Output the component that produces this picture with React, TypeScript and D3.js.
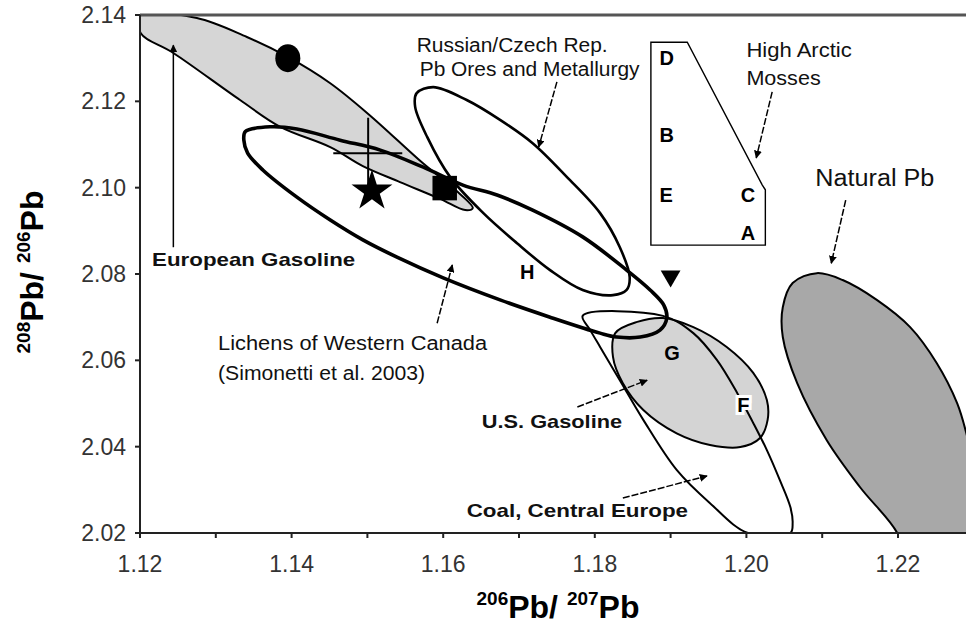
import React from 'react';
import * as d3 from 'd3';

type Pt = [number, number];

// axis ticks
const xTicks = [1.12, 1.13, 1.14, 1.15, 1.16, 1.17, 1.18, 1.19, 1.2, 1.21, 1.22];
const xTickLabels = [1.12, 1.14, 1.16, 1.18, 1.2, 1.22];
const yTicks = [2.02, 2.04, 2.06, 2.08, 2.1, 2.12, 2.14];

// field outlines (206Pb/207Pb, 208Pb/206Pb)
const europeanGasoline: Pt[] = [
  [1.1201, 2.14], [1.1275, 2.1393], [1.1341, 2.1349], [1.1395, 2.1303], [1.1451, 2.1242],
  [1.1503, 2.1168], [1.1573, 2.1057], [1.1616, 2.0995], [1.1639, 2.0953], [1.1629, 2.0948],
  [1.1596, 2.0974], [1.1543, 2.1013], [1.1494, 2.105], [1.1451, 2.1094], [1.1385, 2.1141],
  [1.1332, 2.1203], [1.1244, 2.1312], [1.1201, 2.1358],
];

const lichensCanada: Pt[] = [
  [1.1339, 2.113], [1.1372, 2.1141], [1.1407, 2.1136], [1.1464, 2.111], [1.1517, 2.1087],
  [1.1573, 2.1048], [1.1626, 2.1006], [1.1671, 2.0983], [1.1718, 2.0948], [1.1784, 2.0886],
  [1.1842, 2.0809], [1.1873, 2.0763], [1.1891, 2.0728], [1.1895, 2.0698], [1.1886, 2.067],
  [1.186, 2.0654], [1.1829, 2.0654], [1.1807, 2.0663], [1.1741, 2.07], [1.1675, 2.074],
  [1.16, 2.0791], [1.1539, 2.0839], [1.1494, 2.0879], [1.1451, 2.0925], [1.1407, 2.0978],
  [1.1362, 2.1041], [1.1342, 2.108], [1.1337, 2.111],
];

const russianOres: Pt[] = [
  [1.1565, 2.1219], [1.1587, 2.1233], [1.1631, 2.1203], [1.1675, 2.1157], [1.1718, 2.1103],
  [1.1763, 2.1025], [1.1807, 2.0941], [1.1833, 2.0862], [1.1846, 2.0793], [1.1842, 2.0763],
  [1.1824, 2.0751], [1.1784, 2.0763], [1.1741, 2.0809], [1.1697, 2.0872], [1.1653, 2.0941],
  [1.1609, 2.1025], [1.1579, 2.1117], [1.1563, 2.1187],
];

const arcticMosses: Pt[] = [
  [1.1874, 2.1337], [1.1922, 2.1337], [1.2021, 2.1006], [1.2025, 2.0995], [1.2025, 2.0867], [1.1874, 2.0867],
];

const usGasoline: Pt[] = [
  [1.1827, 2.0663], [1.1856, 2.0689], [1.189, 2.0698], [1.193, 2.0677], [1.1974, 2.0631],
  [1.2009, 2.0571], [1.2027, 2.0508], [1.2028, 2.0462], [1.2018, 2.042], [1.1992, 2.0399],
  [1.1952, 2.0404], [1.1908, 2.0431], [1.1864, 2.0485], [1.1837, 2.0547], [1.1824, 2.0608],
];

const coalEurope: Pt[] = [
  [1.1784, 2.0703], [1.189, 2.0703], [1.193, 2.0663], [1.1961, 2.0601], [1.1988, 2.0524],
  [1.2009, 2.0455], [1.2027, 2.0392], [1.2044, 2.0323], [1.2058, 2.026], [1.2061, 2.0223],
  [1.2058, 2.02], [1.2002, 2.02], [1.1952, 2.0269], [1.1908, 2.0346], [1.1864, 2.0462],
  [1.1833, 2.0554], [1.1807, 2.0631], [1.1794, 2.067],
];

const naturalPb: Pt[] = [
  [1.2093, 2.0802], [1.2127, 2.0786], [1.2172, 2.074], [1.2216, 2.0677], [1.2251, 2.0594],
  [1.2278, 2.0501], [1.229, 2.0432], [1.2303, 2.0323], [1.2306, 2.0207], [1.2288, 2.0114],
  [1.2249, 2.0079], [1.2209, 2.0137], [1.2199, 2.02], [1.215, 2.0306], [1.2106, 2.0415],
  [1.2067, 2.0547], [1.2048, 2.0654], [1.2048, 2.0723], [1.2061, 2.0779],
];

// single samples
const markers = [
  { shape: 'circle', x: 1.1395, y: 2.13 },
  { shape: 'star', x: 1.1506, y: 2.0999 },
  { shape: 'square', x: 1.1602, y: 2.0999 },
  { shape: 'triangle', x: 1.19, y: 2.0795 },
];
const errorCross = { x: 1.1501, y: 2.108, xMin: 1.1455, xMax: 1.1546, yMin: 2.0999, yMax: 2.1162 };

// site letters
const letters = [
  { t: 'D', x: 1.1895, y: 2.13 },
  { t: 'B', x: 1.1895, y: 2.1122 },
  { t: 'E', x: 1.1894, y: 2.0983 },
  { t: 'C', x: 1.2002, y: 2.0983 },
  { t: 'A', x: 1.2002, y: 2.0895 },
  { t: 'H', x: 1.1711, y: 2.0805 },
  { t: 'G', x: 1.1902, y: 2.0617 },
  { t: 'F', x: 1.1996, y: 2.0496 },
];

// annotation text: left edge / baseline in data units, span in x units
const notes = [
  { t: 'Russian/Czech Rep.', x: 1.1565, y: 2.1314, w: 0.0252, bold: false },
  { t: 'Pb Ores and Metallurgy', x: 1.1569, y: 2.1259, w: 0.029, bold: false },
  { t: 'High Arctic', x: 1.2, y: 2.1303, w: 0.0139, bold: false },
  { t: 'Mosses', x: 1.2, y: 2.1238, w: 0.0098, bold: false },
  { t: 'Natural Pb', x: 1.2091, y: 2.1004, w: 0.0157, bold: false },
  { t: 'Lichens of Western Canada', x: 1.1303, y: 2.0624, w: 0.0355, bold: false },
  { t: '(Simonetti et al. 2003)', x: 1.1303, y: 2.0554, w: 0.0273, bold: false },
  { t: 'European Gasoline', x: 1.1216, y: 2.0818, w: 0.0268, bold: true },
  { t: 'U.S. Gasoline', x: 1.1651, y: 2.0443, w: 0.0185, bold: true },
  { t: 'Coal, Central Europe', x: 1.1631, y: 2.0237, w: 0.0292, bold: true },
];

const arrows = [
  { x1: 1.1244, y1: 2.0862, x2: 1.1244, y2: 2.133, dash: false },
  { x1: 1.1592, y1: 2.0686, x2: 1.1612, y2: 2.0821, dash: true },
  { x1: 1.175, y1: 2.1245, x2: 1.1726, y2: 2.1094, dash: true },
  { x1: 1.2034, y1: 2.1222, x2: 1.2013, y2: 2.1069, dash: true },
  { x1: 1.2131, y1: 2.0971, x2: 1.2112, y2: 2.0825, dash: true },
  { x1: 1.1777, y1: 2.0492, x2: 1.1869, y2: 2.0554, dash: true },
  { x1: 1.1837, y1: 2.0281, x2: 1.1948, y2: 2.0332, dash: true },
];

const LEFT = 140;
const RIGHT = 966;
const TOP = 15;
const BOTTOM = 533;

const x = d3.scaleLinear().domain([1.12, 1.22]).range([LEFT, 898]);
const y = d3.scaleLinear().domain([2.02, 2.14]).range([BOTTOM, TOP]);

const smooth = d3.line<Pt>().x(d => x(d[0])).y(d => y(d[1])).curve(d3.curveCatmullRomClosed.alpha(0.5));
const straight = d3.line<Pt>().x(d => x(d[0])).y(d => y(d[1])).curve(d3.curveLinearClosed);
const fmt = d3.format('.2f');

const FONT = "'Liberation Sans', Arial, Helvetica, sans-serif";

function Marker({ m }: { m: typeof markers[number] }) {
  const cx = x(m.x), cy = y(m.y);
  if (m.shape === 'circle') return <ellipse cx={cx} cy={cy} rx={12.5} ry={14} fill="#000" />;
  if (m.shape === 'star')
    return <path d={d3.symbol(d3.symbolStar, 520)()!} transform={`translate(${cx},${cy + 3})`} fill="#000" />;
  if (m.shape === 'square')
    return <path d={d3.symbol(d3.symbolSquare, 600)()!} transform={`translate(${cx},${cy})`} fill="#000" />;
  return <path d={d3.symbol(d3.symbolTriangle, 170)()!} transform={`translate(${cx},${cy}) rotate(180)`} fill="#000" />;
}

export default function App() {
  return (
    <svg width={966} height={625} style={{ position: 'absolute', left: 0, top: 0, background: '#fff' }} fontFamily={FONT}>
      <defs>
        <clipPath id="plotArea">
          <rect x={LEFT} y={TOP} width={RIGHT - LEFT} height={BOTTOM - TOP} />
        </clipPath>
        <marker id="head" viewBox="0 0 10 10" refX={9} refY={5} markerWidth={8} markerHeight={8}
          markerUnits="userSpaceOnUse" orient="auto">
          <path d="M0,0 L10,5 L0,10 z" fill="#000" />
        </marker>
      </defs>

      <g clipPath="url(#plotArea)">
        <path d={smooth(naturalPb)!} fill="#a8a8a8" stroke="#000" strokeWidth={2} />
        <path d={smooth(usGasoline)!} fill="#d4d4d4" stroke="#000" strokeWidth={2} />
        <path d={smooth(europeanGasoline)!} fill="#d6d6d6" stroke="#000" strokeWidth={2} />
        <path d={smooth(coalEurope)!} fill="none" stroke="#000" strokeWidth={2} />
        <path d={smooth(russianOres)!} fill="none" stroke="#000" strokeWidth={2.6} />
        <path d={smooth(lichensCanada)!} fill="none" stroke="#000" strokeWidth={3.6} />
        <path d={straight(arcticMosses)!} fill="none" stroke="#000" strokeWidth={1.4} />
      </g>

      {/* error cross */}
      <g stroke="#000" strokeWidth={2}>
        <line x1={x(errorCross.x)} x2={x(errorCross.x)} y1={y(errorCross.yMax)} y2={y(errorCross.yMin)} />
        <line x1={x(errorCross.xMin)} x2={x(errorCross.xMax)} y1={y(errorCross.y)} y2={y(errorCross.y)} />
      </g>

      {markers.map((m, i) => <Marker key={i} m={m} />)}

      {arrows.map((a, i) => (
        <line key={i} x1={x(a.x1)} y1={y(a.y1)} x2={x(a.x2)} y2={y(a.y2)} stroke="#000" strokeWidth={1.5}
          strokeDasharray={a.dash ? '7,2' : undefined} markerEnd="url(#head)" />
      ))}

      {letters.map(l => (
        <text key={l.t} x={x(l.x)} y={y(l.y)} textAnchor="middle" dominantBaseline="central" fontWeight="bold"
          fontSize={20} fill="#000"
          stroke={l.t === 'F' ? '#fff' : 'none'} strokeWidth={l.t === 'F' ? 6 : 0} paintOrder="stroke">
          {l.t}
        </text>
      ))}

      {notes.map(n => (
        <text key={n.t} x={x(n.x)} y={y(n.y)} fontSize={n.t === 'Natural Pb' ? 23 : n.bold ? 19 : 20}
          fontWeight={n.bold ? 'bold' : 'normal'} fill="#111"
          textLength={x(n.x + n.w) - x(n.x)} lengthAdjust="spacingAndGlyphs">
          {n.t}
        </text>
      ))}

      {/* axes */}
      <line x1={LEFT} x2={RIGHT} y1={TOP} y2={TOP} stroke="#555" strokeWidth={3} />
      <line x1={LEFT} x2={LEFT} y1={TOP} y2={BOTTOM} stroke="#222" strokeWidth={2} />
      <line x1={LEFT} x2={RIGHT} y1={BOTTOM} y2={BOTTOM} stroke="#222" strokeWidth={2} />

      {xTicks.map(t => (
        <line key={t} x1={x(t)} x2={x(t)} y1={BOTTOM} y2={BOTTOM + 5} stroke="#222" strokeWidth={2} />
      ))}
      {xTickLabels.map(t => (
        <text key={t} x={x(t)} y={BOTTOM + 39} textAnchor="middle" fontSize={23} fill="#333">{fmt(t)}</text>
      ))}
      {yTicks.map(t => (
        <g key={t}>
          <line x1={LEFT - 5} x2={LEFT} y1={y(t)} y2={y(t)} stroke="#222" strokeWidth={2} />
          <text x={LEFT - 14} y={y(t)} textAnchor="end" dominantBaseline="central" fontSize={23} fill="#333">{fmt(t)}</text>
        </g>
      ))}

      {/* axis titles */}
      <text x={558} y={618} textAnchor="middle" fontWeight="bold" fill="#000">
        <tspan fontSize={19} dy={-13}>206</tspan>
        <tspan fontSize={32} dy={13}>Pb/ </tspan>
        <tspan fontSize={19} dy={-13}>207</tspan>
        <tspan fontSize={32} dy={13}>Pb</tspan>
      </text>
      <text transform="translate(43,272) rotate(-90)" textAnchor="middle" fontWeight="bold" fill="#000">
        <tspan fontSize={19} dy={-13}>208</tspan>
        <tspan fontSize={32} dy={13}>Pb/ </tspan>
        <tspan fontSize={19} dy={-13}>206</tspan>
        <tspan fontSize={32} dy={13}>Pb</tspan>
      </text>
    </svg>
  );
}
